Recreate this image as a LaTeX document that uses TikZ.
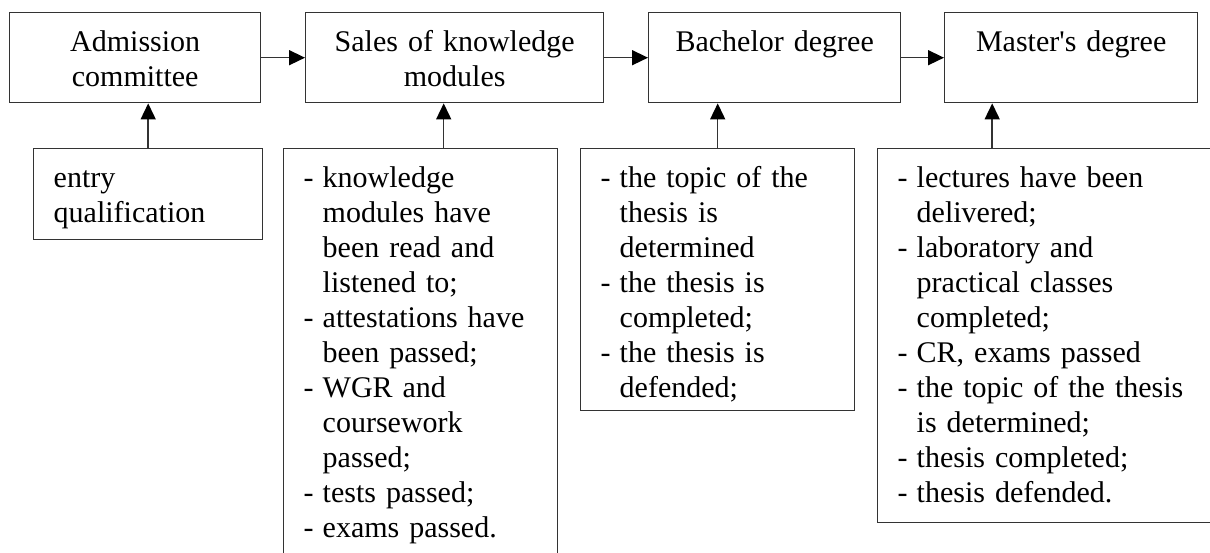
\documentclass[tikz,border=0pt]{standalone}
\usepackage{fontspec}
\setmainfont{Liberation Serif}
\usetikzlibrary{arrows.meta}

% list dash with a fixed width, and the matching indent for wrapped lines
\newcommand{\itm}{\makebox[9.5pt][l]{-}}
\newcommand{\cnt}{\hspace*{9.5pt}}

\begin{document}
\begin{tikzpicture}[x=0.5pt, y=-0.5pt,
  block/.style={draw=black!80, line width=0.7pt, anchor=north west, inner xsep=10pt, inner ysep=0pt,
    text height=19.4pt, font=\fontsize{15pt}{17.5pt}\selectfont},
  stage/.style={block, align=center, text depth=25.6pt},
  cond/.style={block, align=left},
  arr/.style={draw=black!80, line width=0.75pt, -{Triangle[length=8pt,width=7.5pt,color=black]}}]
\useasboundingbox (0,0) rectangle (1210,552);
% stages of study
\node[stage, text width=105.5pt] (adm) at (9,12) {Admission\\committee};
\node[stage, text width=129pt] (sales) at (305,12) {Sales of knowledge\\modules};
\node[stage, text width=106pt] (bach) at (648,12) {Bachelor degree};
\node[stage, text width=106.5pt] (mast) at (944,12) {Master\textquotesingle s degree};
% conditions for each stage
\node[cond, text width=94.5pt, text depth=26.1pt] (entry) at (33,147.5) {entry\\qualification};
\node[cond, text width=117pt, text depth=183.4pt] (sreq) at (283,147.5) {%
  \itm knowledge\\ \cnt modules have\\ \cnt been read and\\ \cnt listened to;\\
  \itm attestations have\\ \cnt been passed;\\
  \itm WGR and\\ \cnt coursework\\ \cnt passed;\\
  \itm tests passed;\\
  \itm exams passed.};
\node[cond, text width=117pt, text depth=111.85pt] (breq) at (580,147.5) {%
  \itm the topic of the\\ \cnt thesis is\\ \cnt determined\\
  \itm the thesis is\\ \cnt completed;\\
  \itm the thesis is\\ \cnt defended;};
\node[cond, text width=147.5pt, text depth=167.85pt] (mreq) at (877,147.5) {%
  \itm lectures have been\\ \cnt delivered;\\
  \itm laboratory and\\ \cnt practical classes\\ \cnt completed;\\
  \itm CR, exams passed\\
  \itm the topic of the thesis\\ \cnt is determined;\\
  \itm thesis completed;\\
  \itm thesis defended.};
% flow between stages
\draw[arr] (adm) -- (sales);
\draw[arr] (sales) -- (bach);
\draw[arr] (bach) -- (mast);
% conditions feed their stage
\draw[arr] (entry.north) -- (entry.north |- adm.south);
\draw[arr] ([xshift=11.5pt]sreq.north) -- ([xshift=11.5pt]sreq.north |- sales.south);
\draw[arr] (breq.north) -- (breq.north |- bach.south);
\draw[arr] ([xshift=-26.5pt]mreq.north) -- ([xshift=-26.5pt]mreq.north |- mast.south);
\end{tikzpicture}
\end{document}
